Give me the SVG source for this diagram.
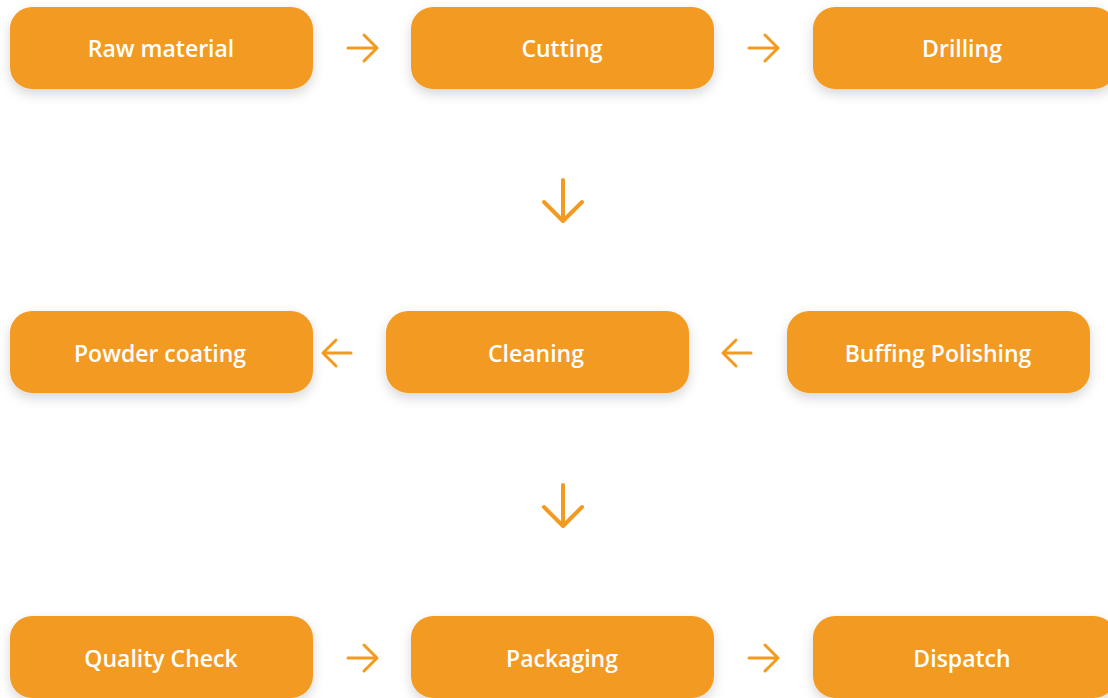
<svg xmlns="http://www.w3.org/2000/svg" width="1108" height="698" viewBox="0 0 1108 698">
<defs>
<filter id="sh" x="-20%" y="-30%" width="140%" height="170%">
<feDropShadow dx="0" dy="5" stdDeviation="6" flood-color="#000" flood-opacity="0.16"/>
</filter>
<style>
.box{fill:#F39A21;filter:url(#sh)}
.lbl{fill:#fff;font-family:"Open Sans","Noto Sans",sans-serif;font-weight:600;font-size:23px;text-anchor:middle;dominant-baseline:central}
.arr{fill:none;stroke:#F39A21;stroke-width:3;stroke-linecap:round;stroke-linejoin:round}
.arrd{fill:none;stroke:#F39A21;stroke-width:4;stroke-linecap:round;stroke-linejoin:round}
</style>
</defs>
<rect width="1108" height="698" fill="#fff"/>
<g id="n1"><rect class="box" x="10" y="7" width="303" height="82" rx="22"/><text class="lbl" x="161" y="48">Raw material</text></g>
<g id="n2"><rect class="box" x="411" y="7" width="303" height="82" rx="22"/><text class="lbl" x="562" y="48">Cutting</text></g>
<g id="n3"><rect class="box" x="813" y="7" width="303" height="82" rx="22"/><text class="lbl" x="962" y="48">Drilling</text></g>
<g id="n4"><rect class="box" x="10" y="311" width="303" height="82" rx="22"/><text class="lbl" x="160" y="353">Powder coating</text></g>
<g id="n5"><rect class="box" x="386" y="311" width="303" height="82" rx="22"/><text class="lbl" x="536" y="353">Cleaning</text></g>
<g id="n6"><rect class="box" x="787" y="311" width="303" height="82" rx="22"/><text class="lbl" x="938" y="353">Buffing Polishing</text></g>
<g id="n7"><rect class="box" x="10" y="616" width="303" height="82" rx="22"/><text class="lbl" x="161" y="658">Quality Check</text></g>
<g id="n8"><rect class="box" x="411" y="616" width="303" height="82" rx="22"/><text class="lbl" x="562" y="658">Packaging</text></g>
<g id="n9"><rect class="box" x="813" y="616" width="303" height="82" rx="22"/><text class="lbl" x="962" y="658">Dispatch</text></g>
<g id="connectors">
<path class="arr" d="M348 48H377M364 35L377 48L364 61"/>
<path class="arr" d="M749 48H778M765 35L778 48L765 61"/>
<path class="arrd" d="M563 180V221M544 202L563 221L582 202"/>
<path class="arr" d="M751 353H723M736 340L723 353L736 366"/>
<path class="arr" d="M351 353H323M336 340L323 353L336 366"/>
<path class="arrd" d="M563 485V526M544 507L563 526L582 507"/>
<path class="arr" d="M348 658H377M364 645L377 658L364 671"/>
<path class="arr" d="M749 658H778M765 645L778 658L765 671"/>
</g>
</svg>
